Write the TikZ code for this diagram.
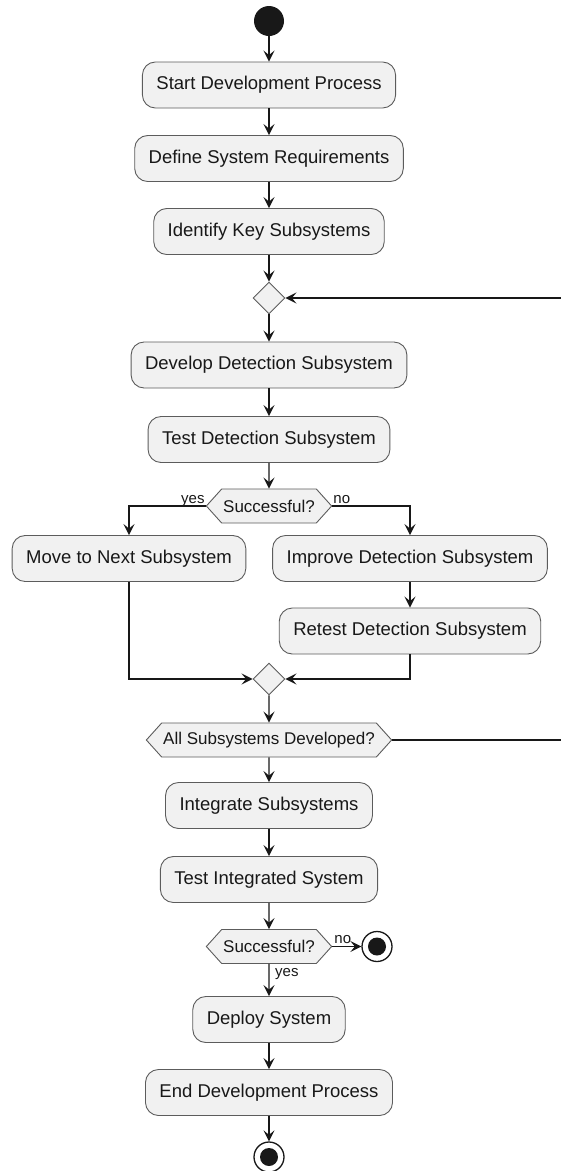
\documentclass[tikz,border=0pt]{standalone}
\usepackage{fontspec}
\setmainfont{Liberation Sans}
\usetikzlibrary{arrows.meta,shapes.geometric,shapes.symbols,calc}
\definecolor{boxfill}{HTML}{F1F1F1}
\definecolor{ink}{HTML}{181818}
\definecolor{rim}{HTML}{5C5C5C}

\begin{document}
\begin{tikzpicture}[x=1pt,y=-1pt,
  action/.style={draw=rim, line width=0.9pt, fill=boxfill, rounded corners=13pt,
    minimum height=46pt, inner xsep=14pt, font=\fontsize{18.5}{22}\selectfont, text=ink},
  choice/.style={signal, signal to=east and west, signal pointer angle=96, draw=rim,
    line width=0.9pt, fill=boxfill, minimum height=34pt, inner xsep=1.5pt, inner ysep=0pt,
    font=\fontsize{17}{20}\selectfont, text=ink},
  merge/.style={diamond, draw=rim, line width=0.9pt, fill=boxfill,
    minimum width=32pt, minimum height=32pt, inner sep=0pt},
  flow/.style={draw=ink, line width=1.4pt, -{Stealth[length=11pt,width=11pt,inset=4.5pt]}},
  plain/.style={draw=ink, line width=1.4pt},
  lbl/.style={font=\fontsize{15}{18}\selectfont, text=ink, inner sep=0pt},
  startdot/.style={circle, fill=ink, minimum size=30pt, inner sep=0pt},
  enddot/.style={circle, draw=ink, line width=1.3pt, fill=white, minimum size=30pt, inner sep=0pt,
    path picture={\fill[ink] (path picture bounding box.center) circle (9pt);}}
]
\useasboundingbox (0,0) rectangle (561,1171);

% main column
\node[startdot] (start) at (269,21) {};
\node[action] (a1) at (269,85) {Start Development Process};
\node[action] (a2) at (269,158.5) {Define System Requirements};
\node[action] (a3) at (269,231.5) {Identify Key Subsystems};
\node[merge] (m1) at (269,298) {};
\node[action] (a4) at (269,365) {Develop Detection Subsystem};
\node[action] (a5) at (269,439.5) {Test Detection Subsystem};
\node[choice] (q1) at (269,506) {Successful?};

% branches
\node[action] (a6) at (129,558.5) {Move to Next Subsystem};
\node[action] (a7) at (410,558.5) {Improve Detection Subsystem};
\node[action] (a8) at (410,631) {Retest Detection Subsystem};
\node[merge] (m2) at (269,679) {};
\node[choice] (q2) at (269,740) {All Subsystems Developed?};

% integration
\node[action] (a9) at (269,805.5) {Integrate Subsystems};
\node[action] (a10) at (269,879.5) {Test Integrated System};
\node[choice] (q3) at (269,946.5) {Successful?};
\node[enddot] (stop1) at (377,946.5) {};
\node[action] (a11) at (269,1019.5) {Deploy System};
\node[action] (a12) at (269,1092.5) {End Development Process};
\node[enddot] (stop2) at (269,1157) {};

% loop back
\coordinate (loopin) at (561,298);
\coordinate (loopout) at (561,740);

% connectors
\draw[flow] (start) -- (a1);
\draw[flow] (a1) -- (a2);
\draw[flow] (a2) -- (a3);
\draw[flow] (a3) -- (m1);
\draw[flow] (loopin) -- (m1.east);
\draw[flow] (m1) -- (a4);
\draw[flow] (a4) -- (a5);
\draw[flow] (a5) -- (q1);
\draw[flow] (q1.west) -| (a6.north);
\draw[flow] (q1.east) -| (a7.north);
\draw[flow] (a7) -- (a8);
\draw[flow] (a6.south) |- (m2.west);
\draw[flow] (a8.south) |- (m2.east);
\draw[flow] (m2) -- (q2);
\draw[plain] (q2.east) -- (loopout);
\draw[flow] (q2) -- (a9);
\draw[flow] (a9) -- (a10);
\draw[flow] (a10) -- (q3);
\draw[flow] (q3.east) -- (stop1);
\draw[flow] (q3) -- (a11);
\draw[flow] (a11) -- (a12);
\draw[flow] (a12) -- (stop2);

% branch labels
\node[lbl, anchor=base east] (y1) at ($(q1.west)+(-1,-3)$) {yes};
\node[lbl, anchor=base west] (n1) at ($(q1.east)+(1,-3)$) {no};
\node[lbl, anchor=base west] (n3) at ($(q3.east)+(2,-3)$) {no};
\node[lbl, anchor=north west] (y3) at ($(q3.south)+(6,4)$) {yes};
\end{tikzpicture}
\end{document}
